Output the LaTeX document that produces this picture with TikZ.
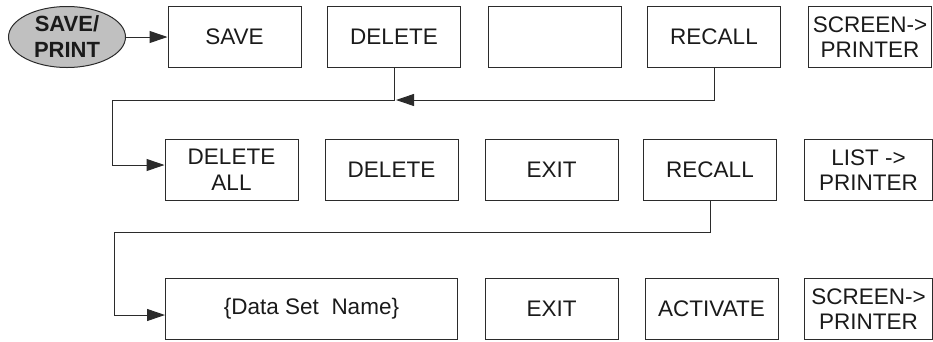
\documentclass[tikz,border=0pt]{standalone}
\usepackage{fontspec}
\setmainfont{Liberation Sans}
\usetikzlibrary{arrows.meta,shapes.geometric}
\definecolor{ln}{HTML}{2B2B2B}
\definecolor{tx}{HTML}{1A1A1A}
\definecolor{ellfill}{HTML}{C0C0C0}
\begin{document}
\begin{tikzpicture}[x=1pt,y=-1pt,
  box/.style={draw=ln,line width=1pt,minimum width=133pt,minimum height=61pt,inner sep=0pt,
    align=center,text=tx,font=\fontsize{22.5}{25.5}\selectfont},
  arr/.style={draw=ln,line width=1pt,-{Triangle[length=18pt,width=12pt]}},
  conn/.style={draw=ln,line width=1pt}]
\useasboundingbox (0,0) rectangle (933,341);
% start ellipse
\node[ellipse,draw=ln,line width=1pt,fill=ellfill,minimum width=117pt,minimum height=61pt,inner sep=0pt] (sp) at (67,37) {};
\node[align=center,text=tx,inner sep=0pt,font=\fontsize{22}{26}\selectfont\bfseries] (spt) at (sp.center) {SAVE/\\PRINT};
% row 1
\node[box] (save) at (234.5,37) {SAVE};
\node[box] (del1) at (394,37) {DELETE};
\node[box] (emp) at (555,37) {};
\node[box] (rec1) at (714,37) {RECALL};
\node[box,minimum width=123pt] (scr1) at (870,37) {SCREEN->\\PRINTER};
% row 2
\node[box] (delall) at (231.5,170) {DELETE\\ALL};
\node[box] (del2) at (391.5,170) {DELETE};
\node[box] (exit2) at (551.5,170) {EXIT};
\node[box] (rec2) at (710,170) {RECALL};
\node[box,minimum width=128pt] (list) at (868.5,170) {LIST ->\\PRINTER};
% row 3
\node[box,minimum width=292pt] (dsn) at (311.5,309) {\{Data Set\ \ Name\}};
\node[box] (exit3) at (551.5,309) {EXIT};
\node[box] (act) at (711.5,309) {ACTIVATE};
\node[box,minimum width=128pt] (scr3) at (868.5,309) {SCREEN->\\PRINTER};
% connectors
\coordinate (j1) at (112,100);
\coordinate (j2) at (396,100);
\coordinate (j3) at (114,232);
\draw[arr] (sp.east) -- (save.west);
\draw[arr] (del1.south) |- (j1) |- ([yshift=5pt]delall.west);
\draw[arr] (rec1.south) |- (j2);
\draw[arr] (rec2.south) |- (j3) |- ([yshift=-6pt]dsn.west);
\end{tikzpicture}
\end{document}
